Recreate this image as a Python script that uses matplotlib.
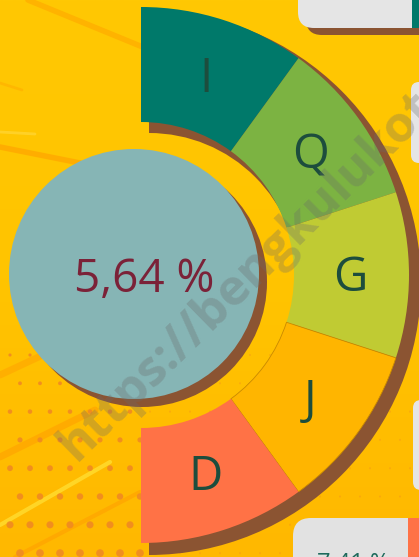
import numpy as np
import matplotlib.pyplot as plt
from matplotlib.patches import Circle, Wedge, FancyBboxPatch, Rectangle
from matplotlib.colors import LinearSegmentedColormap

# data
labels = ['I', 'Q', 'G', 'J', 'D']
shares = [1, 1, 1, 1, 1]
colors = ['#00796A', '#7CB342', '#C0CB33', '#FFB500', '#FF7246']
center_text = '5,64 %'
next_text = '7,41 %'

W, H = 419, 557
brown = '#8B5432'
lab_col = '#1D4D3D'

fig = plt.figure(figsize=(W / 100, H / 100), dpi=100)
ax = fig.add_axes([0, 0, 1, 1])

# background
grad = np.linspace(0, 1, 256).reshape(-1, 1)
bg = LinearSegmentedColormap.from_list('bg', ['#FFC803', '#FFC400', '#FFB800'])
ax.imshow(grad, cmap=bg, extent=[0, W, H, 0], aspect='auto', zorder=0)

# streaks
streaks = [((28, 0), (150, 50), 4, '#FFAE00', 0.8),
           ((0, 83), (22, 90), 2, '#FFAE00', 0.6),
           ((0, 147), (80, 163), 4, '#FFA800', 0.8),
           ((0, 132), (35, 134), 2, '#FFDA40', 0.6),
           ((0, 375), (45, 354), 5, '#FFA500', 0.6),
           ((0, 457), (95, 410), 5, '#FFA000', 0.6),
           ((0, 525), (110, 462), 3, '#FFDD30', 0.8),
           ((15, 557), (140, 492), 3, '#FFA000', 0.6)]
for (x0, y0), (x1, y1), lw, c, a in streaks:
    ax.plot([x0, x1], [y0, y1], color=c, lw=lw, alpha=a, solid_capstyle='round', zorder=1)

# dot pattern
rows = np.arange(355, 560, 28.3)
for i, yy in enumerate(rows):
    xs = np.arange(10 if i % 2 == 0 else 20, 420, 20)
    t = (yy - 355) / 200
    r = np.where(xs < 145, 1.6 + 2.3 * t, 1.0)
    al = np.where(xs < 145, 0.9, 0.35)
    ax.scatter(xs, np.full_like(xs, yy, dtype=float), s=(2 * r * 0.72) ** 2,
               c='#F08A22', alpha=al, linewidths=0, zorder=1)

# right side boxes
ax.add_patch(FancyBboxPatch((306, -40), 150, 75, boxstyle='round,pad=0,rounding_size=16',
                            fc=brown, ec='none', zorder=2))
ax.add_patch(FancyBboxPatch((298, -40), 150, 68, boxstyle='round,pad=0,rounding_size=16',
                            fc='#E5E5E5', ec='none', zorder=3))
ax.add_patch(Rectangle((412, 0), 10, 28, fc='#00796A', ec='none', zorder=4))
ax.add_patch(FancyBboxPatch((411, 82), 40, 81, boxstyle='round,pad=0,rounding_size=8',
                            fc='#E5E5E5', ec='none', zorder=3))
ax.add_patch(FancyBboxPatch((413, 400), 40, 90, boxstyle='round,pad=0,rounding_size=8',
                            fc='#E5E5E5', ec='none', zorder=3))
ax.add_patch(FancyBboxPatch((293, 518), 150, 80, boxstyle='round,pad=0,rounding_size=18',
                            fc='#E2E2E2', ec='none', zorder=3))
ax.add_patch(Rectangle((408, 518), 14, 45, fc='#FF7246', ec='none', zorder=4))
ax.text(317, 552, next_text, fontsize=17, color='#1F6B5C', family='Open Sans',
        ha='left', va='top', zorder=5)

# donut shadow
ax.add_patch(Wedge((149, 283), 272, -90, 90, width=122, fc=brown, ec='none', zorder=4))

# half donut
cx, cy, R, w = 141, 275, 268, 115
vals = shares + [sum(shares)]
wedges, _ = ax.pie(vals, colors=colors + ['none'], radius=R, center=(cx, cy),
                   startangle=-90, wedgeprops=dict(width=w, linewidth=0))
for wd in wedges:
    wd.set_zorder(5)
wedges[3].set_edgecolor('#C98A00')
wedges[3].set_linewidth(0.6)
for wd, lab in zip(wedges, labels):
    th = np.deg2rad((wd.theta1 + wd.theta2) / 2)
    ax.text(cx + 209 * np.cos(th), cy + 209 * np.sin(th) + 16, lab, fontsize=34,
            color=lab_col, family='Open Sans', ha='center', va='baseline', zorder=6)

# center circle
ax.add_patch(Circle((142, 282), 125, fc=brown, ec='none', zorder=5))
ax.add_patch(Circle((134, 274), 125, fc='#86B5B5', ec='none', zorder=6))
ax.text(144, 292, center_text, fontsize=33, color='#7B2238', family='Open Sans',
        ha='center', va='baseline', zorder=7)

# watermark
ax.text(76, 462, 'https://bengkulukota.bps.go.id', rotation=44.5, rotation_mode='anchor',
        ha='left', va='baseline', fontsize=36, fontweight='bold', family='Open Sans',
        color='#6A6A6A', alpha=0.3, zorder=9)

ax.set_xlim(0, W)
ax.set_ylim(H, 0)
ax.set_aspect('auto')
ax.axis('off')
fig.savefig('out.png', dpi=100)
